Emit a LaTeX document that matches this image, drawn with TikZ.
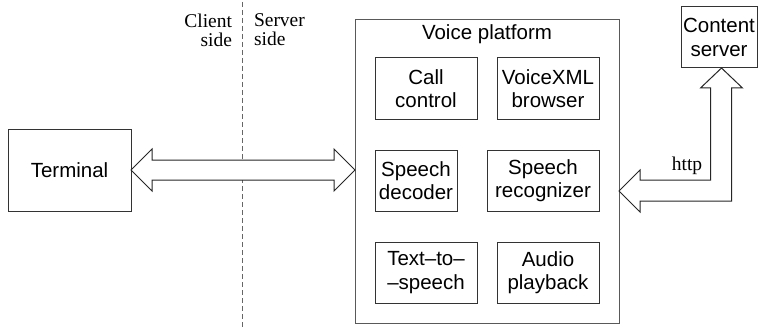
\documentclass[tikz,border=0pt]{standalone}
\usepackage{fontspec}
\setmainfont{Liberation Serif}
\setsansfont{Liberation Sans}
\usetikzlibrary{calc}
\begin{document}
\begin{tikzpicture}[x=1pt,y=-1pt,
  every node/.style={inner sep=0pt,outer sep=0pt},
  sans/.style={font=\sffamily\fontsize{20.5}{23.5}\selectfont},
  box/.style={sans,draw=black!80,line width=1pt,align=center},
  lbl/.style={font=\rmfamily\fontsize{19.5}{19}\selectfont},
  fatarrow/.style={draw=black!85,line width=1pt,fill=white,line join=miter},
  sep/.style={draw=black!60,line width=1.5pt,dash pattern=on 5pt off 3pt}]
\useasboundingbox (0,0) rectangle (758,329);

% client/server boundary
\coordinate (septop) at (242.5,2);
\coordinate (sepbot) at (242.5,329);
\draw[sep] (septop) -- (sepbot);
\node[lbl,anchor=north east,align=right] (client) at (232,14) {Client\\side};
\node[lbl,anchor=north west,align=left] (server) at (254,14) {Server\\side};

% outer blocks
\node[box,minimum width=123,minimum height=82] (term) at (69.5,170) {Terminal};
\node[box,draw=black!65,minimum width=264,minimum height=303] (pl) at (487,171.5) {};
\node[sans,anchor=base] (pltitle) at (487,40) {Voice platform};
\node[box,minimum width=76,minimum height=61] (cs) at (719,37.5) {Content\\server};

% platform components
\node[box,minimum width=102,minimum height=61] (cc) at (426,88.5) {Call\\control};
\node[box,minimum width=102,minimum height=61] (vx) at (548,88.5) {VoiceXML\\browser};
\node[box,minimum width=82,minimum height=61] (sd) at (416,180.5) {Speech\\decoder};
\node[box,minimum width=112,minimum height=61] (sr) at (543,180.5) {Speech\\recognizer};
\node[box,minimum width=102,minimum height=61] (tts) at (426,272.5) {Text--to--\\--speech};
\node[box,minimum width=102,minimum height=61] (ap) at (548,272.5) {Audio\\playback};

% two-way link terminal <-> platform
\draw[fatarrow] let \p1=(term.east), \p2=(pl.west) in
  (\x1,\y1) -- (\x1+21pt,\y1+21pt) -- (\x1+21pt,\y1+10pt) -- (\x2-21pt,\y1+10pt)
  -- (\x2-21pt,\y1+21pt) -- (\x2,\y1) -- (\x2-21pt,\y1-21pt) -- (\x2-21pt,\y1-10pt)
  -- (\x1+21pt,\y1-10pt) -- (\x1+21pt,\y1-21pt) -- cycle;

% two-way http link platform <-> content server
\draw[fatarrow] let \p1=(cs.south), \p2=(pl.east) in
  (\x1+2.5pt,\y1) -- (\x1+23.5pt,\y1-20pt) -- (\x1+12.5pt,\y1-20pt)
  -- (\x1+12.5pt,\y1-133pt) -- (\x2+21pt,\y1-133pt) -- (\x2+21pt,\y1-144pt)
  -- (\x2,\y1-123pt) -- (\x2+21pt,\y1-102pt) -- (\x2+21pt,\y1-112pt)
  -- (\x1-8.5pt,\y1-112pt) -- (\x1-8.5pt,\y1-20pt) -- (\x1-18.5pt,\y1-20pt) -- cycle;
\node[lbl,anchor=base] (http) at (687,170) {http};
\end{tikzpicture}
\end{document}
